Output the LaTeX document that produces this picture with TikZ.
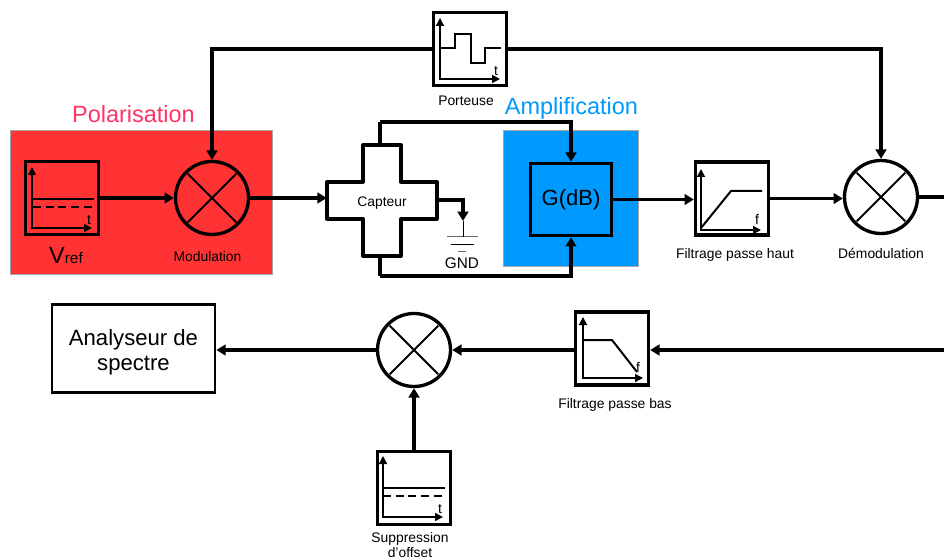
\documentclass[tikz,border=0pt]{standalone}
\usepackage{fontspec}
\setmainfont{Liberation Sans}
\usetikzlibrary{arrows.meta}
\definecolor{polred}{HTML}{FF3333}
\definecolor{polpink}{HTML}{FF3366}
\definecolor{ampblue}{HTML}{0099FF}
\tikzset{
  wire/.style={line width=2.3pt,-{Triangle[length=7pt,width=8pt]}},
  plainwire/.style={line width=2.3pt},
  thinaxis/.style={line width=1.1pt,{Triangle[length=6pt,width=6pt]}-{Triangle[length=6pt,width=6pt]}},
  curve/.style={line width=1.5pt},
  block/.style={draw,line width=2.5pt,minimum size=54.75pt,inner sep=0pt},
  mixer/.style={draw,circle,line width=2.5pt,minimum size=54.75pt,inner sep=0pt},
  xline/.style={line width=1.4pt,shorten >=3pt,shorten <=3pt},
  zone/.style={draw=black!35,line width=0.75pt,inner sep=0pt},
  smalltext/.style={font=\fontsize{10.4pt}{11.25pt}\selectfont,align=center},
  bigtext/.style={font=\fontsize{17.6pt}{20pt}\selectfont},
  axislabel/.style={font=\fontsize{10.5pt}{12pt}\selectfont,inner sep=0pt}
}
\begin{document}
\begin{tikzpicture}[x=0.75pt,y=-0.75pt]
\useasboundingbox (0,0) rectangle (944,559);
% coloured zones
\node[zone,fill=polred,minimum width=196.5pt,minimum height=107.25pt] (polzone) at (141,202.5) {};
\node[zone,fill=ampblue,minimum width=101.25pt,minimum height=102pt] (ampzone) at (570.5,199) {};
\node[bigtext,text=polpink] (pollabel) at (133.5,114) {Polarisation};
\node[bigtext,text=ampblue] (amplabel) at (571.5,108.5) {Amplification};
% blocks
\node[block] (vref) at (62,198) {};
\node[mixer] (modulation) at (212,198) {};
\node[block] (porteuse) at (470,49) {};
\node[block,minimum width=60.75pt,minimum height=54pt,font=\fontsize{16.5pt}{18pt}\selectfont] (gain) at (571,199.5) {G(dB)};
\node[block] (passehaut) at (732,198.5) {};
\node[mixer] (demod) at (881,197) {};
\node[block] (passebas) at (612,348.5) {};
\node[mixer] (offsetmix) at (414,350) {};
\node[block] (offset) at (414,488) {};
\node[block,line width=2pt,minimum width=122.25pt,minimum height=66pt,align=center,font=\fontsize{16.6pt}{18.75pt}\selectfont] (analyseur) at (133.5,348.5) {\rule{0pt}{18pt}Analyseur de\\spectre};
% capteur
\node[smalltext,minimum width=82.5pt,minimum height=83.25pt,inner sep=0pt] (capteur) at (382,203) {Capteur};
\draw[line width=2.5pt,line join=round] (363,145) -- (401,145) -- (401,182) -- (437,182) -- (437,219) -- (401,219) -- (401,256) -- (363,256) -- (363,219) -- (327,219) -- (327,182) -- (363,182) -- cycle;
% crosses in the mixers
\foreach \m in {modulation,demod,offsetmix} {
  \draw[xline] (\m.north west) -- (\m.south east);
  \draw[xline] (\m.north east) -- (\m.south west);
}
% axes
\foreach \ox/\oy in {32/228,440/79,701/230,583/378,383/517}
  \draw[thinaxis] (\ox,\oy-61) -- (\ox,\oy) -- (\ox+60,\oy);
% plots
\draw[curve] (33,199) -- (94,199);
\draw[curve,dash pattern=on 6pt off 3.5pt] (33,207) -- (94,207);
\draw[curve] (383,488) -- (445,488);
\draw[curve,dash pattern=on 6pt off 3.5pt] (383,496) -- (445,496);
\draw[curve] (440,48) -- (455,48) -- (455,34) -- (471,34) -- (471,63) -- (485,63) -- (485,48) -- (501,48);
\draw[curve] (701,228) -- (731,191) -- (762,191);
\draw[curve] (583,340) -- (612,340) -- (637,372);
\node[axislabel] (tvref) at (89,220) {t};
\node[axislabel] (tporteuse) at (496,71) {t};
\node[axislabel] (fhaut) at (757,219) {f};
\node[axislabel] (fbas) at (638,367) {f};
\node[axislabel] (toffset) at (440,509) {t};
% labels
\node[inner sep=0pt] (vreflabel) at (66,256) {\fontsize{17.6pt}{20pt}\selectfont V\fontsize{11.5pt}{14pt}\selectfont ref};
\node[smalltext] (modlabel) at (207.5,257) {Modulation};
\node[smalltext] (portlabel) at (466,101) {Porteuse};
\node[smalltext] (hautlabel) at (735,255) {Filtrage passe haut};
\node[smalltext] (demodlabel) at (881,253) {Démodulation};
\node[smalltext] (baslabel) at (615,405) {Filtrage passe bas};
\node[smalltext,inner sep=0pt] (offsetlabel) at (410,545) {Suppression\\d’offset};
% masse
\coordinate (capright) at (437,200);
\coordinate (gndpoint) at (463,237);
\coordinate (gndtip) at (463,221);
\draw[line width=0.75pt,draw=black!60] (447,237) -- (478,237);
\draw[line width=0.75pt] (451,245) -- (474,245);
\draw[line width=0.75pt,draw=black!60] (458,252) -- (466,252);
\draw[line width=0.75pt] (gndtip) -- (gndpoint);
\draw[wire] (capright) -| (gndtip);
\node[font=\fontsize{11.5pt}{14pt}\selectfont] (gnd) at (462,263) {GND};
% connectors
\coordinate (captop) at (380,145);
\coordinate (capbot) at (380,256);
\coordinate (topbend) at (380,122);
\coordinate (botbend) at (380,276);
\coordinate (outright) at (944,197);
\coordinate (inright) at (944,350);
\draw[wire] (vref) -- (modulation);
\draw[wire] (modulation.east) -- (capteur.west |- modulation.east);
\draw[wire] (gain.east) -- (passehaut.west |- gain.east);
\draw[wire] (passehaut) -- (demod.west |- passehaut);
\draw[plainwire] (demod.east) -- (outright);
\draw[wire] (inright) -- (passebas.east |- inright);
\draw[wire] (passebas.west |- offsetmix.east) -- (offsetmix.east);
\draw[wire] (offsetmix.west) -- (analyseur.east |- offsetmix.west);
\draw[wire] (offset.north) -- (offsetmix.south);
\draw[wire] (porteuse.west) -| (modulation.north);
\draw[wire] (porteuse.east) -| (demod.north);
\draw[plainwire] (captop) -- (topbend);
\draw[wire] (topbend) -| (gain.north);
\draw[plainwire] (capbot) -- (botbend);
\draw[wire] (botbend) -| (gain.south);
\end{tikzpicture}
\end{document}
